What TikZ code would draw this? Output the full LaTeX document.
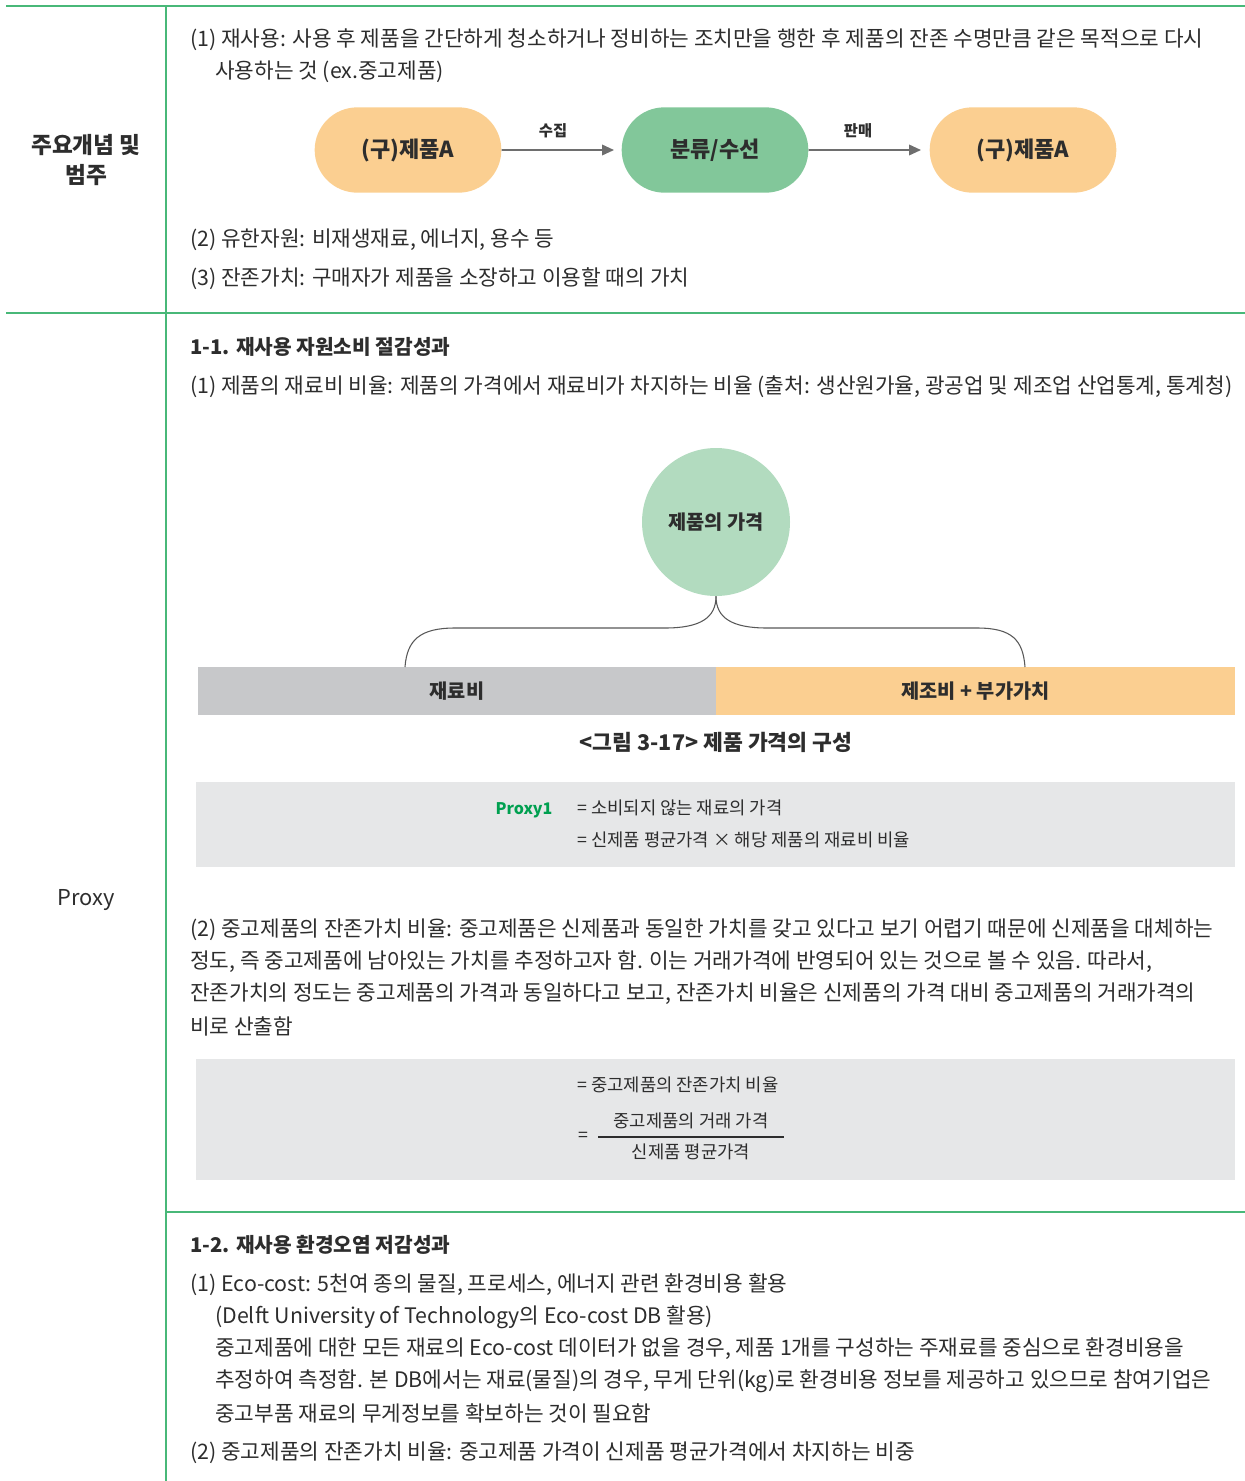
\documentclass[tikz,border=0pt]{standalone}
\usepackage{fontspec}
\setmainfont{Noto Sans CJK KR}
\usepackage{xcolor}
\usetikzlibrary{shapes.misc,arrows.meta}

\definecolor{rulegreen}{RGB}{72,184,120}
\definecolor{textgray}{RGB}{45,45,45}
\definecolor{capsorange}{RGB}{251,207,145}
\definecolor{capsgreen}{RGB}{130,199,154}
\definecolor{circgreen}{RGB}{178,219,191}
\definecolor{bargray}{RGB}{199,200,202}
\definecolor{boxgray}{RGB}{230,231,232}
\definecolor{proxygreen}{RGB}{0,160,80}
\definecolor{arrowgray}{RGB}{110,110,110}

\begin{document}
\begin{tikzpicture}[x=0.75pt,y=0.75pt,yscale=-1,xscale=1,
    body/.style={anchor=west,inner sep=0pt,text=textgray,font=\fontsize{16}{20}\selectfont},
    head/.style={body,font=\fontsize{15.2}{20}\selectfont\bfseries},
    capsule/.style={rounded rectangle,minimum width=140pt,minimum height=64pt,inner sep=0pt,text=textgray,font=\fontsize{16.5}{20}\selectfont\bfseries},
    flowlbl/.style={inner sep=0pt,text=textgray,font=\fontsize{11.5}{14}\selectfont\bfseries},
    flow/.style={draw=arrowgray,line width=1.2pt,-{Triangle[length=9pt,width=8pt]}},
    barbox/.style={minimum height=36pt,inner sep=0pt,text=textgray,font=\fontsize{14.8}{18}\selectfont\bfseries},
    boxtxt/.style={anchor=west,inner sep=0pt,text=textgray,font=\fontsize{13.3}{16}\selectfont},
    rule/.style={draw=rulegreen,line width=1.3pt}
  ]
  \useasboundingbox (0,0) rectangle (1245,1481);

  %Straight Lines (table rules)
  \draw[rule] (6,6) -- (1245,6);
  \draw[rule] (6,313) -- (1245,313);
  \draw[rule] (166,1212) -- (1245,1212);
  \draw[rule] (166,6) -- (166,1481);

  % Text Node (left column)
  \node[align=center,inner sep=0pt,text=textgray,font=\fontsize{17}{22}\selectfont\bfseries] (cat) at (86,160) {주요개념 및\\범주};
  \node[inner sep=0pt,text=textgray,font=\fontsize{16.4}{20}\selectfont] (proxy) at (86,900) {Proxy};

  % Text Node (first row)
  \node[body] (d1a) at (190,40) {(1) 재사용: 사용 후 제품을 간단하게 청소하거나 정비하는 조치만을 행한 후 제품의 잔존 수명만큼 같은 목적으로 다시};
  \node[body] (d1b) at (215,72) {사용하는 것 (ex.중고제품)};
  \node[body] (d2) at (190,240) {(2) 유한자원: 비재생재료, 에너지, 용수 등};
  \node[body] (d3) at (190,279) {(3) 잔존가치: 구매자가 제품을 소장하고 이용할 때의 가치};

  % reuse flow
  \node[capsule,fill=capsorange] (oldA) at (408,150) {(구)제품A};
  \node[capsule,fill=capsgreen] (sort) at (715,150) {분류/수선};
  \node[capsule,fill=capsorange] (oldB) at (1023,150) {(구)제품A};
  \draw[flow] (oldA) -- (614,150) coordinate (arrA);
  \draw[flow] (sort) -- (921,150) coordinate (arrB);
  \node[flowlbl] (collect) at (553,131) {수집};
  \node[flowlbl] (sell) at (858,131) {판매};

  % Text Node (1-1)
  \node[head] (h11) at (190,347) {1-1. 재사용 자원소비 절감성과};
  \node[body] (p11) at (190,387) {(1) 제품의 재료비 비율: 제품의 가격에서 재료비가 차지하는 비율 (출처: 생산원가율, 광공업 및 제조업 산업통계, 통계청)};

  % price composition
  \node[circle,fill=circgreen,minimum size=111pt,inner sep=0pt,text=textgray,font=\fontsize{14.8}{18}\selectfont\bfseries] (price) at (716,522) {제품의 가격};
  \node[barbox,fill=bargray,minimum width=388.5pt] (mat) at (457,691) {재료비};
  \node[barbox,fill=capsorange,minimum width=389.25pt] (mfg) at (975.5,691) {제조비 + 부가가치};
  \coordinate (braceL) at (405,667);
  \coordinate (braceR) at (1025,667);
  \draw[arrowgray!80!black,line width=0.8pt] (price.south) .. controls (716,618) and (700,628) .. (665,628) -- (455,628) .. controls (420,628) and (407,640) .. (braceL);
  \draw[arrowgray!80!black,line width=0.8pt] (price.south) .. controls (716,618) and (732,628) .. (767,628) -- (977,628) .. controls (1012,628) and (1023,640) .. (braceR);
  \node[inner sep=0pt,text=textgray,font=\fontsize{16.2}{20}\selectfont\bfseries] (cap) at (716,742) {<그림 3-17> 제품 가격의 구성};

  % Proxy1 box
  \fill[boxgray] (196,782) rectangle (1235,867);
  \node[inner sep=0pt,text=proxygreen,font=\fontsize{12}{16}\selectfont\bfseries] (px1) at (524,810) {Proxy1};
  \node[boxtxt] (px1a) at (577,808) {= 소비되지 않는 재료의 가격};
  \node[boxtxt] (px1b) at (577,840) {= 신제품 평균가격 × 해당 제품의 재료비 비율};

  % Text Node (residual value)
  \node[body] (q1) at (190,930) {(2) 중고제품의 잔존가치 비율: 중고제품은 신제품과 동일한 가치를 갖고 있다고 보기 어렵기 때문에 신제품을 대체하는};
  \node[body] (q2) at (190,962) {정도, 즉 중고제품에 남아있는 가치를 추정하고자 함. 이는 거래가격에 반영되어 있는 것으로 볼 수 있음. 따라서,};
  \node[body] (q3) at (190,994) {잔존가치의 정도는 중고제품의 가격과 동일하다고 보고, 잔존가치 비율은 신제품의 가격 대비 중고제품의 거래가격의};
  \node[body] (q4) at (190,1026) {비로 산출함};

  % ratio box
  \fill[boxgray] (196,1059) rectangle (1235,1180);
  \node[boxtxt] (rv) at (577,1085) {= 중고제품의 잔존가치 비율};
  \node[boxtxt] (eq) at (578,1137) {=};
  \node[inner sep=0pt,text=textgray,font=\fontsize{13.3}{16}\selectfont] (num) at (691,1121) {중고제품의 거래 가격};
  \node[inner sep=0pt,text=textgray,font=\fontsize{13.3}{16}\selectfont] (den) at (691,1152) {신제품 평균가격};
  \draw[textgray,line width=0.8pt] (598,1137) -- (784,1137);

  % Text Node (1-2)
  \node[head] (h12) at (190,1245) {1-2. 재사용 환경오염 저감성과};
  \node[body] (e1) at (190,1285) {(1) Eco-cost: 5천여 종의 물질, 프로세스, 에너지 관련 환경비용 활용};
  \node[body] (e2) at (215,1317) {(Delft University of Technology의 Eco-cost DB 활용)};
  \node[body] (e3) at (215,1349) {중고제품에 대한 모든 재료의 Eco-cost 데이터가 없을 경우, 제품 1개를 구성하는 주재료를 중심으로 환경비용을};
  \node[body] (e4) at (215,1381) {추정하여 측정함. 본 DB에서는 재료(물질)의 경우, 무게 단위(kg)로 환경비용 정보를 제공하고 있으므로 참여기업은};
  \node[body] (e5) at (215,1413) {중고부품 재료의 무게정보를 확보하는 것이 필요함};
  \node[body] (e6) at (190,1453) {(2) 중고제품의 잔존가치 비율: 중고제품 가격이 신제품 평균가격에서 차지하는 비중};

\end{tikzpicture}
\end{document}
